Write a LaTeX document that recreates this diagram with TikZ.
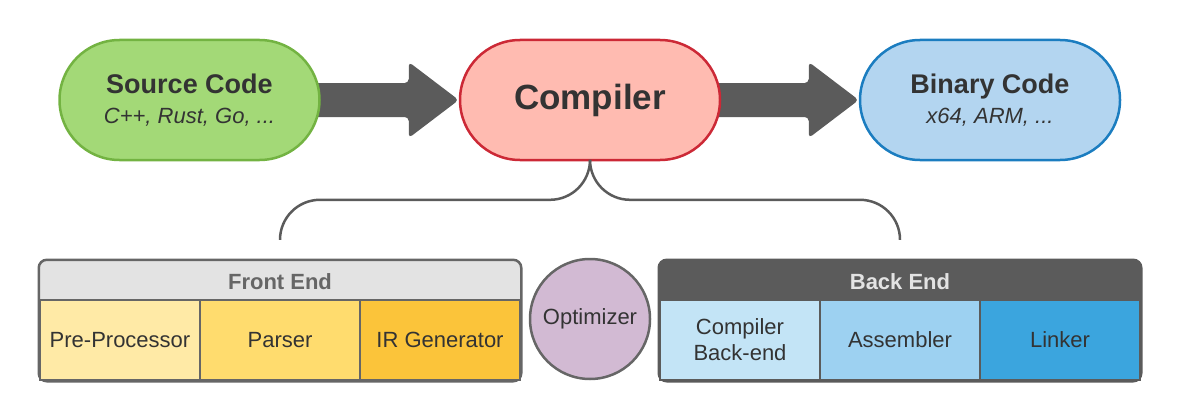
\documentclass[tikz,border=0pt]{standalone}
\usepackage{fontspec}
\setmainfont{Liberation Sans}
\usetikzlibrary{backgrounds}

\definecolor{txt}{HTML}{333333}
\definecolor{darkgray}{HTML}{5B5B5B}
\definecolor{midgray}{HTML}{666666}
\definecolor{srcfill}{HTML}{A3D977}
\definecolor{srcline}{HTML}{73B342}
\definecolor{cmpfill}{HTML}{FFBBB1}
\definecolor{cmpline}{HTML}{CC2936}
\definecolor{binfill}{HTML}{B3D5F0}
\definecolor{binline}{HTML}{1B7DC0}
\definecolor{hdgray}{HTML}{E3E3E3}
\definecolor{yellowA}{HTML}{FFEAA6}
\definecolor{yellowB}{HTML}{FFDC6E}
\definecolor{yellowC}{HTML}{FBC43A}
\definecolor{optfill}{HTML}{D2BAD3}
\definecolor{blueA}{HTML}{C3E4F6}
\definecolor{blueB}{HTML}{9DD1F1}
\definecolor{blueC}{HTML}{3BA5DE}

\begin{document}
\begin{tikzpicture}
  [x=1pt,y=-1pt,every node/.style={text=txt,align=center,inner sep=0pt},
   pill/.style={draw,rounded corners=60pt,minimum width=260pt,minimum height=120pt,line width=2.5pt,
     font=\fontsize{22}{30}\selectfont},
   cell/.style={draw=#1,line width=2.5pt,minimum width=160pt,minimum height=80pt,
     font=\fontsize{22}{26}\selectfont},
   header/.style={minimum width=480pt,minimum height=44pt,text=#1,
     font=\fontsize{22}{26}\selectfont\bfseries},
   fatarrow/.style={fill=darkgray,rounded corners=4pt},
   brace/.style={draw=darkgray,line width=2.5pt,rounded corners=40pt},
   panel/.style={draw=#1,line width=2.5pt,rounded corners=8pt}]
  \useasboundingbox (0,0) rectangle (1180,420);

  % top row
  \node[pill,draw=srcline,fill=srcfill] (src) at (189.5,100)
    {{\fontsize{27}{30}\selectfont\bfseries Source Code}\\
     {\itshape C++, Rust, Go, ...}};
  \node[pill,draw=cmpline,fill=cmpfill] (cmp) at (590,100)
    {\fontsize{35}{40}\selectfont\bfseries Compiler};
  \node[pill,draw=binline,fill=binfill] (bin) at (990,100)
    {{\fontsize{27}{30}\selectfont\bfseries Binary Code}\\
     {\itshape x64, ARM, ...}};

  \begin{scope}[on background layer]
    \foreach \from/\to in {src/cmp,cmp/bin}
      \fill[fatarrow] ([xshift=-10pt,yshift=17pt]\from.east)
        -- ([xshift=-50pt,yshift=17pt]\to.west)
        -- ([xshift=-50pt,yshift=38pt]\to.west)
        -- (\to.west)
        -- ([xshift=-50pt,yshift=-38pt]\to.west)
        -- ([xshift=-50pt,yshift=-17pt]\to.west)
        -- ([xshift=-10pt,yshift=-17pt]\from.east) -- cycle;
  \end{scope}

  % front end
  \node[header=midgray] (fe) at (280,282) {Front End};
  \node[cell=midgray,fill=yellowA] (pp) at (120,340) {Pre-Processor};
  \node[cell=midgray,fill=yellowB] (ps) at (280,340) {Parser};
  \node[cell=midgray,fill=yellowC] (ir) at (440,340) {IR Generator};

  % optimizer
  \node[circle,draw=midgray,fill=optfill,line width=2.5pt,minimum size=120pt,
    font=\fontsize{22}{26}\selectfont] (opt) at (590,319) {Optimizer};

  % back end
  \node[header=hdgray] (be) at (900,282) {Back End};
  \node[cell=darkgray,fill=blueA] (cb) at (740,340) {Compiler\\Back-end};
  \node[cell=darkgray,fill=blueB] (as) at (900,340) {Assembler};
  \node[cell=darkgray,fill=blueC] (ln) at (1060,340) {Linker};

  \begin{scope}[on background layer]
    \filldraw[panel=midgray,fill=hdgray] (pp.south west) |- (fe.north) -| (ir.south east) -- cycle;
    \filldraw[panel=darkgray,fill=darkgray] (cb.south west) |- (be.north) -| (ln.south east) -- cycle;
  \end{scope}

  % brace
  \draw[brace] (cmp.south) |- ([yshift=60pt]fe.north) -- ([yshift=20pt]fe.north);
  \draw[brace] (cmp.south) |- ([yshift=60pt]be.north) -- ([yshift=20pt]be.north);

\end{tikzpicture}
\end{document}
